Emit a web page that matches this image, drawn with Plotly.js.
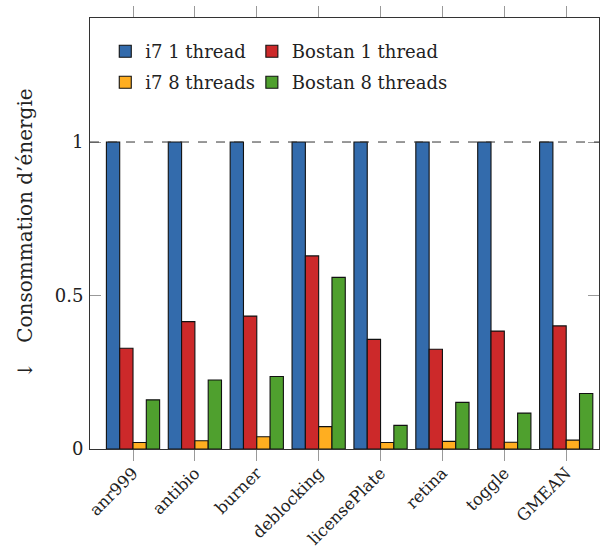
<!DOCTYPE html>
<html>
<head>
<meta charset="utf-8">
<script src="https://cdn.plot.ly/plotly-3.0.1.min.js"></script>
<style>body{margin:0;padding:0;background:#fff;} #chart{width:600px;height:550px;}</style>
</head>
<body>
<div id="chart"></div>
<script>
const categories = ["anr999","antibio","burner","deblocking","licensePlate","retina","toggle","GMEAN"];
const i7_1 = [1,1,1,1,1,1,1,1];
const bostan_1 = [0.328,0.415,0.433,0.629,0.357,0.325,0.384,0.401];
const i7_8 = [0.021,0.027,0.040,0.073,0.021,0.025,0.022,0.029];
const bostan_8 = [0.160,0.225,0.236,0.559,0.077,0.152,0.117,0.181];
const yTickVals = [0,0.5,1];
const yTickText = ["0","0.5","1"];

const FONT = "DejaVu Serif, Liberation Serif, serif";
function bar(name, y, color, legend) {
  return {type:"bar", name:name, x:categories, y:y, legend:legend,
    marker:{color:color, line:{color:"#111", width:1.1}}};
}
const data = [
  bar("i7 1 thread", i7_1, "#336bac", "legend"),
  bar("Bostan 1 thread", bostan_1, "#cc292a", "legend2"),
  bar("i7 8 threads", i7_8, "#ffae20", "legend3"),
  bar("Bostan 8 threads", bostan_8, "#4fa02e", "legend4")
];
function leg(x, y) {
  return {x:x, y:y, orientation:"v", xanchor:"left", yanchor:"top", bgcolor:"rgba(0,0,0,0)",
    font:{family:FONT, size:18, color:"#222"}, itemwidth:30};
}
const row1 = 0.965, row2 = 0.893;
const layout = {
  width:600, height:550,
  margin:{l:90, r:1, t:18, b:101},
  paper_bgcolor:"#fff", plot_bgcolor:"#fff",
  font:{family:FONT, size:17, color:"#222"},
  barmode:"group", bargap:0.14, bargroupgap:0,
  showlegend:true,
  legend: leg(0.03, row1),
  legend2: leg(0.318, row1),
  legend3: leg(0.03, row2),
  legend4: leg(0.318, row2),
  xaxis:{type:"category", range:[-0.695,7.53], showline:true, linecolor:"#333", linewidth:1,
    mirror:"ticks", ticks:"outside", ticklen:11, tickcolor:"#999", tickwidth:1, ticklabelstandoff:-4,
    tickangle:-45, tickfont:{family:FONT, size:16.5, color:"#222"}, showgrid:false, zeroline:false},
  yaxis:{range:[0,1.404], showline:true, linecolor:"#333", linewidth:1, mirror:"ticks",
    ticks:"inside", ticklen:11, tickcolor:"#999", tickwidth:1, ticklabelstandoff:2,
    tickvals:yTickVals, ticktext:yTickText, tickfont:{family:FONT, size:18, color:"#222"},
    showgrid:false, zeroline:false,
    title:{text:"↓   Consommation d’énergie", font:{family:FONT, size:20, color:"#222"}, standoff:16}},
  shapes:[{type:"line", xref:"paper", x0:0, x1:1, yref:"y", y0:1, y1:1,
    line:{color:"#333", width:1, dash:"dash"}, layer:"above"}]
};
Plotly.newPlot("chart", data, layout, {staticPlot:true, displayModeBar:false});
</script>
</body>
</html>
